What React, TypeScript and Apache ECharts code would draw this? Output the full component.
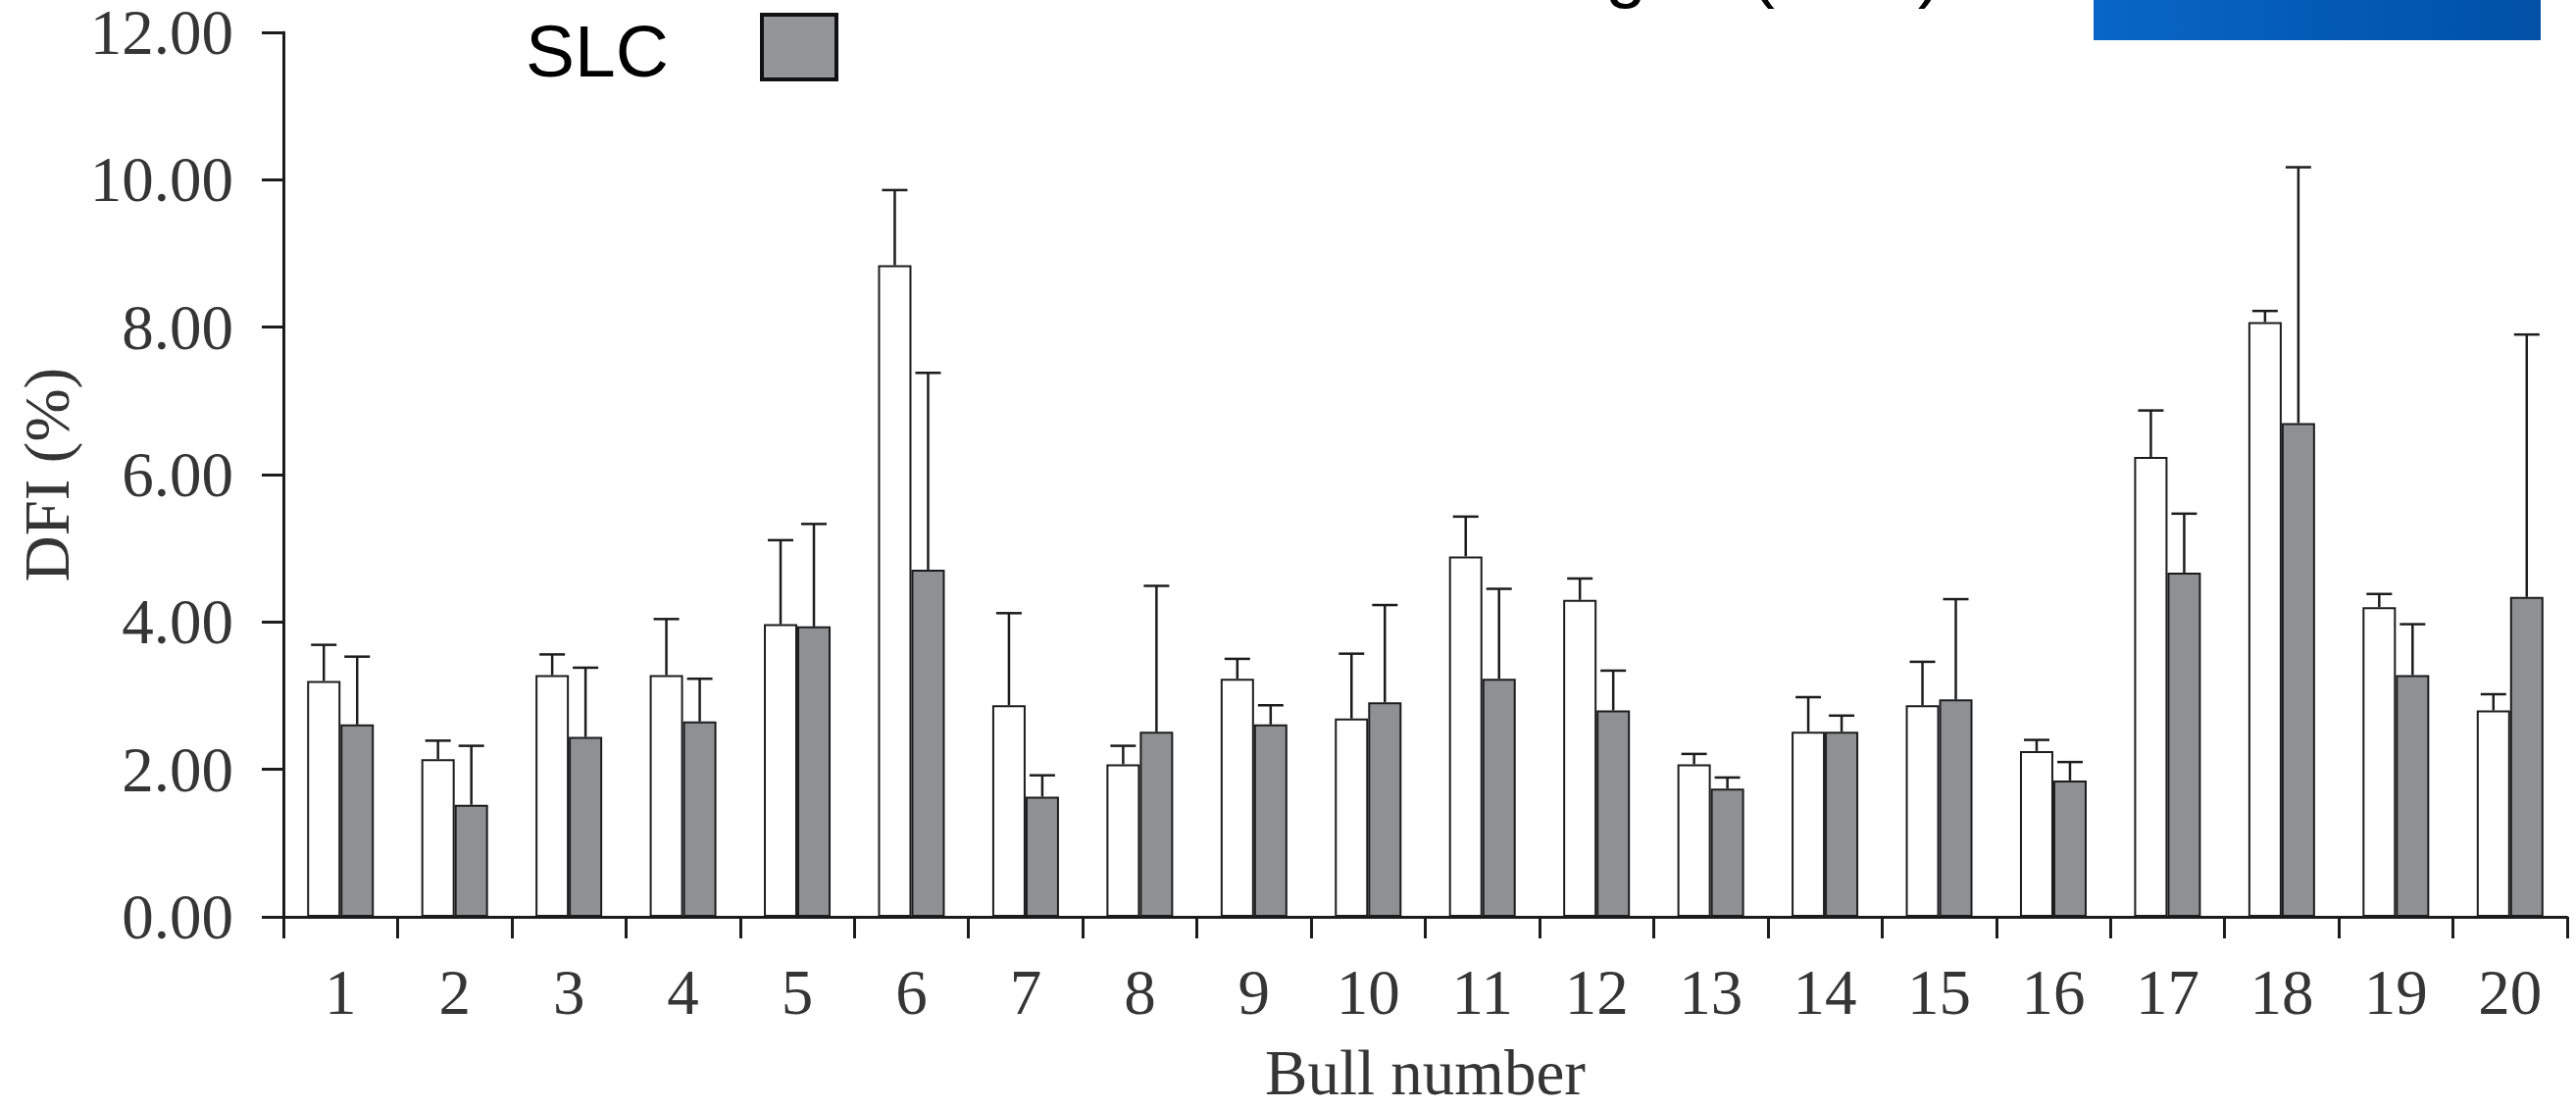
import React, { useEffect, useRef } from "react";
import * as echarts from "echarts";

const bulls = ["1","2","3","4","5","6","7","8","9","10","11","12","13","14","15","16","17","18","19","20"];
const controlMean = [3.20,2.14,3.28,3.28,3.97,8.84,2.87,2.07,3.23,2.69,4.89,4.30,2.07,2.51,2.87,2.25,6.24,8.07,4.20,2.80];
const controlSD = [0.49,0.25,0.28,0.76,1.14,1.02,1.25,0.25,0.27,0.88,0.54,0.29,0.14,0.47,0.59,0.15,0.63,0.15,0.18,0.22];
const slcMean = [2.61,1.52,2.44,2.65,3.94,4.71,1.63,2.51,2.61,2.91,3.23,2.80,1.74,2.51,2.95,1.85,4.67,6.70,3.28,4.34];
const slcSD = [0.92,0.80,0.94,0.58,1.39,2.67,0.29,1.98,0.26,1.32,1.22,0.54,0.15,0.22,1.36,0.25,0.80,3.47,0.69,3.56];
const yTicks = { min: 0, max: 12, interval: 2 };
const legendLabel = "SLC";
const topFragmentLeft = "Washing";
const topFragmentRight = "(SLC)";

const SERIF = "'Liberation Serif', 'Times New Roman', serif";
const SANS = "'Liberation Sans', Arial, sans-serif";
const INK = "#1c1c1c";
const LABEL = "#353535";
const BAR_W = 34;

function errorSeries(name: string, means: number[], sds: number[], offset: number) {
  return {
    name,
    type: "custom",
    z: 5,
    data: means.map((m, i) => [i, m, +(m + sds[i]).toFixed(2)]),
    encode: { x: 0, y: [1, 2] },
    renderItem: (params: any, api: any) => {
      const idx = api.value(0);
      const base = api.coord([idx, api.value(1)]);
      const top = api.coord([idx, api.value(2)]);
      const x = base[0] + offset;
      const st = { stroke: INK, lineWidth: 2.5 };
      return {
        type: "group",
        children: [
          { type: "line", shape: { x1: x, y1: base[1], x2: x, y2: top[1] }, style: st },
          { type: "line", shape: { x1: x - 13, y1: top[1], x2: x + 13, y2: top[1] }, style: st },
        ],
      };
    },
  };
}

export default function App() {
  const ref = useRef<HTMLDivElement>(null);
  useEffect(() => {
    if (!ref.current) return;
    const chart = echarts.init(ref.current, undefined, { renderer: "svg" });
    chart.setOption({
      animation: false,
      backgroundColor: "#ffffff",
      grid: { left: 289, right: 9, top: 33, bottom: 188, containLabel: false },
      xAxis: {
        type: "category",
        data: bulls,
        boundaryGap: true,
        name: "Bull number",
        nameLocation: "middle",
        nameGap: 126,
        nameTextStyle: { fontFamily: SERIF, fontSize: 65, color: LABEL },
        axisLine: { show: true, lineStyle: { color: INK, width: 3 } },
        axisTick: { show: true, length: 22, inside: false, alignWithLabel: false, lineStyle: { color: INK, width: 3 } },
        axisLabel: { fontFamily: SERIF, fontSize: 65, color: LABEL, margin: 44, interval: 0 },
        splitLine: { show: false },
      },
      yAxis: {
        type: "value",
        min: yTicks.min,
        max: yTicks.max,
        interval: yTicks.interval,
        name: "DFI (%)",
        nameLocation: "middle",
        nameGap: 205,
        nameTextStyle: { fontFamily: SERIF, fontSize: 65, color: LABEL },
        axisLine: { show: true, lineStyle: { color: INK, width: 3 } },
        axisTick: { show: true, length: 22, inside: false, lineStyle: { color: INK, width: 3 } },
        axisLabel: { fontFamily: SERIF, fontSize: 65, color: LABEL, margin: 51, formatter: (v: number) => v.toFixed(2) },
        splitLine: { show: false },
      },
      series: [
        {
          name: "Control",
          type: "bar",
          data: controlMean,
          barWidth: BAR_W,
          barGap: "0%",
          itemStyle: { color: "#ffffff", borderColor: INK, borderWidth: 2 },
        },
        {
          name: "SLC",
          type: "bar",
          data: slcMean,
          barWidth: BAR_W,
          barGap: "0%",
          itemStyle: { color: "#8f9092", borderColor: INK, borderWidth: 2 },
        },
        errorSeries("Control SD", controlMean, controlSD, -BAR_W / 2),
        errorSeries("SLC SD", slcMean, slcSD, BAR_W / 2),
      ],
      graphic: [
        {
          type: "text",
          left: 536,
          top: 14,
          style: { text: legendLabel, fontFamily: SANS, fontSize: 75, fill: "#000" },
        },
        {
          type: "rect",
          shape: { x: 777, y: 15, width: 76, height: 66 },
          style: { fill: "#939598", stroke: "#111", lineWidth: 4 },
        },
        {
          type: "text",
          x: 1679,
          y: 5,
          style: { text: topFragmentLeft, fontFamily: SANS, fontSize: 75, fill: "#000", align: "right", verticalAlign: "bottom" },
        },
        {
          type: "text",
          x: 1785,
          y: 5,
          style: { text: topFragmentRight, fontFamily: SANS, fontSize: 75, fill: "#000", align: "left", verticalAlign: "bottom" },
        },
        {
          type: "rect",
          shape: { x: 2135, y: 0, width: 456, height: 41 },
          style: {
            fill: new echarts.graphic.LinearGradient(0, 0, 1, 0, [
              { offset: 0, color: "#0866c6" },
              { offset: 1, color: "#0050a6" },
            ]),
          },
        },
      ],
    });
    return () => chart.dispose();
  }, []);
  return (
    <div
      ref={ref}
      style={{ position: "fixed", left: 0, top: 0, width: 2627, height: 1131, background: "#fff" }}
    />
  );
}
